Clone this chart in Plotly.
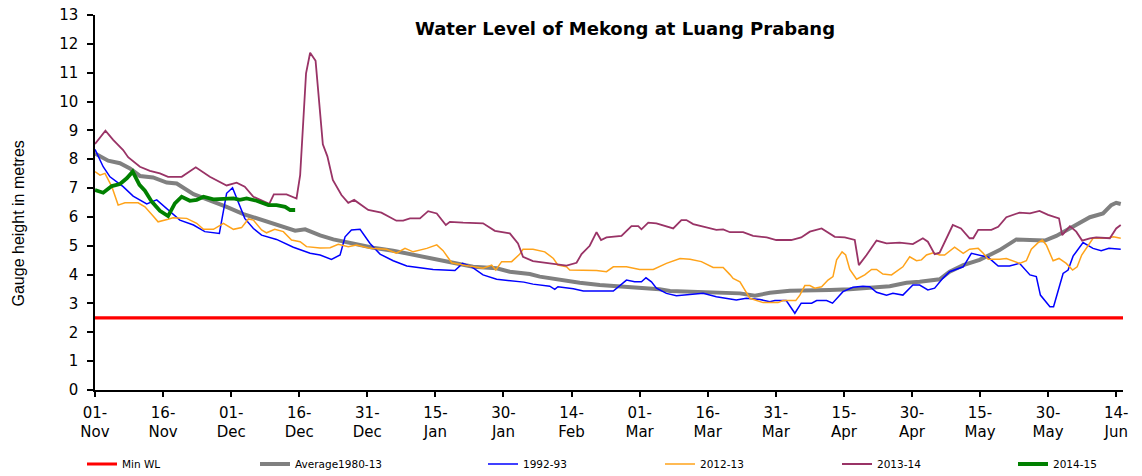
import plotly.graph_objects as go

# x positions are days after 01-Nov
tick_days = [0, 15, 30, 45, 60, 75, 90, 105, 120, 135, 150, 165, 180, 195, 210, 225]
tick_labels = ["01-<br>Nov", "16-<br>Nov", "01-<br>Dec", "16-<br>Dec", "31-<br>Dec", "15-<br>Jan",
               "30-<br>Jan", "14-<br>Feb", "01-<br>Mar", "16-<br>Mar", "31-<br>Mar", "15-<br>Apr",
               "30-<br>Apr", "15-<br>May", "30-<br>May", "14-<br>Jun"]

minwl_days = [0, 226.5]
minwl_vals = [2.5, 2.5]

avg_days = [0, 2.9, 5.5, 7.7, 9.9, 12.8, 15.8, 18, 21.7, 25.3, 29, 32.7, 37.1, 40.7, 44.1, 46.3, 49.6,
            52.5, 56.9, 61.3, 65.7, 70.1, 74.5, 78.9, 83.3, 88.5, 91.4, 95.8, 98, 102.4, 106.8, 111.2,
            115.6, 120, 124.4, 126.7, 133.3, 139.9, 142.1, 145.4, 148.7, 153.1, 157.5, 161.9, 166.3,
            170.7, 175.1, 178.8, 181.7, 186.1, 188.3, 191.3, 194.9, 199.3, 203, 206, 209.3, 211.8,
            215.5, 219.2, 222.1, 223.9, 225, 226]
avg_vals = [8.20, 7.95, 7.86, 7.68, 7.42, 7.37, 7.19, 7.16, 6.79, 6.59, 6.35, 6.10, 5.87, 5.68, 5.52,
            5.57, 5.36, 5.22, 5.08, 4.93, 4.83, 4.68, 4.56, 4.41, 4.27, 4.22, 4.10, 4.02, 3.93, 3.81,
            3.72, 3.64, 3.60, 3.53, 3.49, 3.43, 3.41, 3.37, 3.35, 3.27, 3.37, 3.44, 3.44, 3.47, 3.49,
            3.56, 3.60, 3.72, 3.75, 3.84, 4.10, 4.33, 4.51, 4.85, 5.22, 5.20, 5.18, 5.34, 5.68, 5.99,
            6.12, 6.41, 6.49, 6.45]

y9293_days = [0, 1.8, 3.3, 6.2, 8.4, 11.4, 13.6, 16.5, 18.7, 21.7, 24.2, 27.4, 29, 30.3, 33, 34.9,
              36.7, 40, 43.7, 47.4, 49.6, 52.1, 54, 55.1, 56.5, 58.4, 60.6, 62.8, 65.7, 68.7, 71.6,
              74.5, 79.3, 81, 83, 85.5, 88.5, 92.1, 94.5, 96.5, 100.2, 101.3, 102, 105.4, 107.6,
              114.2, 117.1, 118.9, 120.4, 121.4, 122.6, 123.7, 125.9, 128.1, 131.8, 134, 136.9,
              139.9, 141.3, 143.5, 146.5, 148.7, 149.8, 152.3, 154.2, 155.6, 157.9, 159, 161.2,
              162.5, 164.8, 167, 169.2, 170.7, 172.2, 174.4, 175.8, 178, 180.2, 181.7, 183.5, 185,
              186.8, 188.3, 191.3, 193.1, 194.9, 196.8, 199, 201.5, 203.7, 206, 207.4, 208.3, 210.4,
              211.2, 213.3, 214.4, 215.5, 217.7, 219.9, 221.7, 223.4, 226]
y9293_vals = [8.34, 7.74, 7.39, 7.05, 6.72, 6.45, 6.59, 6.18, 5.89, 5.72, 5.49, 5.43, 6.82, 7.01,
              5.95, 5.60, 5.37, 5.22, 4.95, 4.74, 4.68, 4.53, 4.68, 5.31, 5.55, 5.57, 5.08, 4.71,
              4.48, 4.30, 4.25, 4.18, 4.14, 4.39, 4.27, 3.99, 3.84, 3.79, 3.74, 3.67, 3.60, 3.49,
              3.58, 3.51, 3.43, 3.43, 3.81, 3.75, 3.75, 3.89, 3.75, 3.53, 3.35, 3.27, 3.32, 3.35,
              3.23, 3.14, 3.12, 3.18, 3.14, 3.06, 3.10, 3.10, 2.66, 3.01, 3.01, 3.10, 3.10, 3.01,
              3.41, 3.56, 3.60, 3.58, 3.39, 3.29, 3.35, 3.29, 3.64, 3.64, 3.47, 3.53, 3.87, 4.10,
              4.27, 4.74, 4.68, 4.60, 4.30, 4.30, 4.39, 3.99, 3.93, 3.29, 2.89, 2.89, 4.04, 4.16,
              4.64, 5.11, 4.91, 4.83, 4.91, 4.88]

y1213_days = [0, 1.1, 2.2, 3.7, 5.1, 6.6, 9.5, 11, 12.8, 13.9, 16.1, 17.2, 20.2, 22.4, 23.9, 26.1,
              28.3, 30.5, 32.3, 33.8, 34.9, 36.7, 37.8, 39.6, 41.5, 43.3, 45.2, 46.6, 49.6, 51.8,
              53.6, 55.8, 57.6, 60.6, 64.2, 66.4, 68.3, 70.1, 73.1, 75.3, 76.7, 78.6, 81.1, 85.5,
              87.4, 88.3, 89.6, 91.8, 93.6, 94.3, 96.5, 99.1, 101, 102, 103.9, 104.6, 110.5, 112.7,
              114.2, 117.1, 120, 123, 125.9, 128.9, 131.1, 133.6, 136.2, 138.4, 139.9, 140.6, 142.1,
              143.2, 144.3, 147.2, 150.5, 151.6, 154.4, 155.3, 156.4, 157.5, 158.6, 160.1, 161.5,
              162.6, 163.4, 164.6, 165.4, 166.3, 167.8, 169.6, 171.1, 172.2, 173.6, 175.5, 178,
              179.5, 181, 182.1, 183.2, 184.7, 186.1, 187.2, 189.4, 191.3, 192.7, 194.6, 195.7,
              196.8, 199.3, 200.8, 202.3, 203.7, 205.2, 206.3, 207.8, 208.7, 209.6, 211.1, 212.4,
              214, 215.4, 216.4, 217.4, 218.4, 219.9, 222.9, 224.4, 226]
y1213_vals = [7.57, 7.45, 7.51, 7.05, 6.41, 6.49, 6.49, 6.35, 6.03, 5.83, 5.92, 5.97, 5.95, 5.78,
              5.57, 5.57, 5.78, 5.57, 5.63, 5.93, 5.89, 5.55, 5.45, 5.57, 5.49, 5.20, 5.14, 4.97,
              4.92, 4.93, 5.05, 4.97, 5.03, 4.91, 4.88, 4.74, 4.91, 4.79, 4.91, 5.03, 4.83, 4.41,
              4.33, 4.22, 4.33, 4.16, 4.45, 4.45, 4.71, 4.88, 4.88, 4.79, 4.56, 4.33, 4.27, 4.16,
              4.14, 4.10, 4.27, 4.27, 4.18, 4.18, 4.39, 4.56, 4.53, 4.45, 4.25, 4.25, 4.00, 3.87,
              3.75, 3.47, 3.18, 3.03, 3.03, 3.10, 3.10, 3.29, 3.62, 3.62, 3.53, 3.58, 3.81, 3.93,
              4.51, 4.79, 4.68, 4.18, 3.84, 3.99, 4.18, 4.18, 4.02, 3.99, 4.27, 4.62, 4.48, 4.51,
              4.68, 4.76, 4.68, 4.68, 4.95, 4.74, 4.88, 4.91, 4.74, 4.53, 4.53, 4.56, 4.48, 4.39,
              4.48, 4.88, 5.11, 5.20, 5.03, 4.48, 4.56, 4.39, 4.16, 4.27, 4.68, 4.91, 5.26, 5.26,
              5.31, 5.26]

y1314_days = [0, 2.3, 4, 6.2, 7.3, 9.9, 12.1, 14.3, 16.1, 19.1, 22.2, 25.3, 29, 31.2, 33, 34.9,
              38.4, 39.4, 42.2, 44.4, 45.2, 46.5, 47.4, 48.6, 50.2, 51.2, 52.4, 54.3, 55.8, 57.1,
              60.2, 63.1, 66.4, 67.9, 69.4, 71.6, 73.4, 75.3, 77.3, 78.2, 81.1, 85.5, 88.1, 91.4,
              93.2, 94.3, 96.5, 99.5, 101.7, 103.9, 106.1, 107.2, 109, 110.5, 111.5, 112.7, 116,
              118.2, 119.7, 120.4, 121.9, 123.7, 127.4, 129.2, 130.3, 131.8, 134.7, 136.9, 138.4,
              139.9, 142.8, 145, 148, 150.1, 153.4, 155.6, 157.5, 160.1, 163, 165.2, 167.4, 168.3,
              170, 172.2, 174.4, 177.3, 180.2, 182.4, 183.5, 185, 186.1, 189, 190.8, 192.7, 193.5,
              194.6, 197.5, 199, 200.8, 203.7, 206, 208.1, 210, 212.4, 213.1, 214.8, 216.2, 217.5,
              219.2, 220.6, 223.6, 225, 226]
y1314_vals = [8.53, 8.99, 8.67, 8.32, 8.07, 7.74, 7.60, 7.51, 7.39, 7.39, 7.72, 7.39, 7.09, 7.19,
              7.05, 6.70, 6.45, 6.78, 6.78, 6.64, 7.45, 10.98, 11.69, 11.41, 8.52, 8.10, 7.28, 6.76,
              6.49, 6.59, 6.24, 6.15, 5.87, 5.87, 5.95, 5.95, 6.20, 6.12, 5.72, 5.83, 5.80, 5.78,
              5.52, 5.43, 5.08, 4.62, 4.47, 4.41, 4.37, 4.31, 4.41, 4.71, 5.00, 5.47, 5.20, 5.29,
              5.34, 5.68, 5.68, 5.57, 5.80, 5.78, 5.60, 5.89, 5.89, 5.75, 5.64, 5.55, 5.57, 5.47,
              5.47, 5.34, 5.29, 5.20, 5.20, 5.29, 5.49, 5.60, 5.31, 5.29, 5.20, 4.33, 4.68, 5.18,
              5.08, 5.11, 5.06, 5.26, 5.14, 4.71, 4.76, 5.72, 5.60, 5.26, 5.26, 5.55, 5.55, 5.66,
              5.99, 6.15, 6.12, 6.21, 6.07, 5.95, 5.37, 5.68, 5.49, 5.18, 5.26, 5.29, 5.26, 5.60,
              5.72]

y1415_days = [0, 1.8, 3.7, 5.5, 7, 8.3, 9.8, 11, 12.5, 14.3, 16.1, 17.6, 19.1, 20.9, 22.4, 23.9,
              26.1, 28.3, 30.5, 31.9, 33.4, 35.6, 38.2, 40, 41.9, 43, 44.1]
y1415_vals = [6.93, 6.84, 7.07, 7.14, 7.34, 7.57, 7.11, 6.91, 6.53, 6.21, 6.03, 6.47, 6.70, 6.56,
              6.59, 6.70, 6.61, 6.64, 6.64, 6.59, 6.64, 6.56, 6.41, 6.41, 6.35, 6.24, 6.24]

series = [
    ("Min WL", minwl_days, minwl_vals, "#FF0000", 3.2),
    ("Average1980-13", avg_days, avg_vals, "#808080", 4),
    ("1992-93", y9293_days, y9293_vals, "#0000FF", 1.5),
    ("2012-13", y1213_days, y1213_vals, "#FFA31A", 1.5),
    ("2013-14", y1314_days, y1314_vals, "#993366", 1.8),
    ("2014-15", y1415_days, y1415_vals, "#008000", 3.8),
]

L, R, T, B = 95, 19, 15, 86
W, H = 1142, 476
pw, ph = W - L - R, H - T - B
text_starts = [122, 295, 523, 700, 877, 1053]

fig = go.Figure()
layout_legends = {}
for i, (name, xs, ys, col, lw) in enumerate(series):
    key = "legend" if i == 0 else f"legend{i+1}"
    fig.add_trace(go.Scatter(x=xs, y=ys, mode="lines", name=name,
                             line=dict(color=col, width=lw), legend=key))
    layout_legends[key] = dict(
        xref="container", yref="container",
        x=(text_starts[i] - 40) / W, xanchor="left",
        y=1 - 464 / H, yanchor="middle",
        orientation="h", bgcolor="rgba(0,0,0,0)", borderwidth=0,
        font=dict(family="DejaVu Sans", size=10.5, color="#000000"),
    )

fig.update_layout(
    template="none",
    width=W, height=H,
    margin=dict(l=L, r=R, t=T, b=B, autoexpand=False),
    paper_bgcolor="white", plot_bgcolor="white",
    showlegend=True,
    title=dict(text="<b>Water Level of Mekong at Luang Prabang</b>",
               font=dict(family="DejaVu Sans", size=18, color="#000000"),
               xref="paper", x=(625 - L) / pw, xanchor="center",
               yref="container", y=1 - 29 / H, yanchor="middle"),
    **layout_legends,
)

fig.update_xaxes(range=[0, 226.5], tickmode="array", tickvals=tick_days, ticktext=tick_labels,
                 automargin=False,
                 showgrid=False, zeroline=False, showline=True, linecolor="#000000", linewidth=1.5,
                 ticks="outside", ticklen=5, tickwidth=1.5, tickcolor="#000000",
                 ticklabelstandoff=3,
                 tickfont=dict(family="DejaVu Sans", size=15, color="#000000"))
fig.update_yaxes(range=[0, 13], dtick=1, tick0=0, tickmode="linear",
                 automargin=False,
                 showgrid=False, zeroline=False, showline=True, linecolor="#000000", linewidth=1.5,
                 ticks="outside", ticklen=6, tickwidth=1.5, tickcolor="#000000",
                 ticklabelstandoff=6,
                 tickfont=dict(family="DejaVu Sans", size=15, color="#000000"))

fig.add_annotation(text="Gauge height in metres", textangle=-90,
                   xref="paper", yref="paper", x=(17.5 - L) / pw, y=(H - B - 224) / ph,
                   xanchor="center", yanchor="middle", showarrow=False,
                   font=dict(family="Liberation Sans", size=16, color="#000000"))

fig.write_html("out.html", config={"displayModeBar": False},
               post_script="document.body.style.margin='0px';document.body.style.overflow='hidden';")
